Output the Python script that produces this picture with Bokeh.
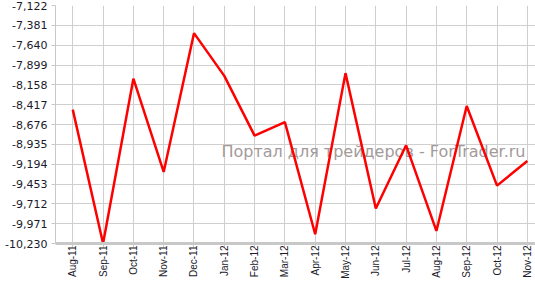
import math
from bokeh.plotting import figure
from bokeh.models import FixedTicker, Range1d, Label, NumeralTickFormatter
from bokeh.embed import file_html
from bokeh.resources import INLINE

months = ["Aug-11", "Sep-11", "Oct-11", "Nov-11", "Dec-11", "Jan-12", "Feb-12", "Mar-12",
          "Apr-12", "May-12", "Jun-12", "Jul-12", "Aug-12", "Sep-12", "Oct-12", "Nov-12"]
values = [-8482, -10230, -8078, -9296, -7483, -8041, -8821, -8644,
          -10109, -8005, -9774, -8948, -10066, -8435, -9474, -9153]
y_ticks = [-10230, -9971, -9712, -9453, -9194, -8935, -8676, -8417,
           -8158, -7899, -7640, -7381, -7122]
watermark = "Портал для трейдеров - ForTrader.ru"

xs = list(range(len(months)))

p = figure(width=535, height=282, output_backend="svg", toolbar_location=None,
           x_range=Range1d(-0.57, 15.27), y_range=Range1d(y_ticks[0], y_ticks[-1]),
           min_border_left=55, min_border_right=0, min_border_top=5, min_border_bottom=39)
p.outline_line_color = None
p.background_fill_color = "white"
p.border_fill_color = "white"

p.xaxis.ticker = FixedTicker(ticks=xs)
p.xaxis.major_label_overrides = {i: m for i, m in zip(xs, months)}
p.xaxis.major_label_orientation = math.pi / 2
p.yaxis.ticker = FixedTicker(ticks=y_ticks)
p.yaxis.formatter = NumeralTickFormatter(format="0,0")

for ax in (p.xaxis, p.yaxis):
    ax.major_label_text_font = "DejaVu Sans"
    ax.major_label_text_font_size = "11px"
    ax.major_label_text_color = "#1a1a2a"
    ax.minor_tick_line_color = None
    ax.major_tick_line_color = "#c8c8c8"
    ax.major_tick_out = 4
    ax.major_tick_in = 0
    ax.major_label_standoff = 4

p.xaxis.axis_line_color = "#c8c8c8"
p.xaxis.axis_line_width = 3
p.yaxis.axis_line_color = "#c8c8c8"
p.yaxis.axis_line_width = 1
p.xaxis.major_label_text_font = "Liberation Sans"
p.xaxis.major_label_text_font_size = "10px"
p.xaxis.major_label_standoff = -2

p.grid.grid_line_color = "#cfcfcf"
p.grid.grid_line_width = 1

wm = Label(x=470, y=92, x_units="screen", y_units="screen", text=watermark,
           text_font="DejaVu Sans", text_font_size="16px", text_color="#a39a9a",
           text_align="right", text_baseline="middle", level="underlay")
p.add_layout(wm)

p.line(xs, values, line_color="#ff0000", line_width=2.5)

open("out.html", "w").write(file_html(p, INLINE))
